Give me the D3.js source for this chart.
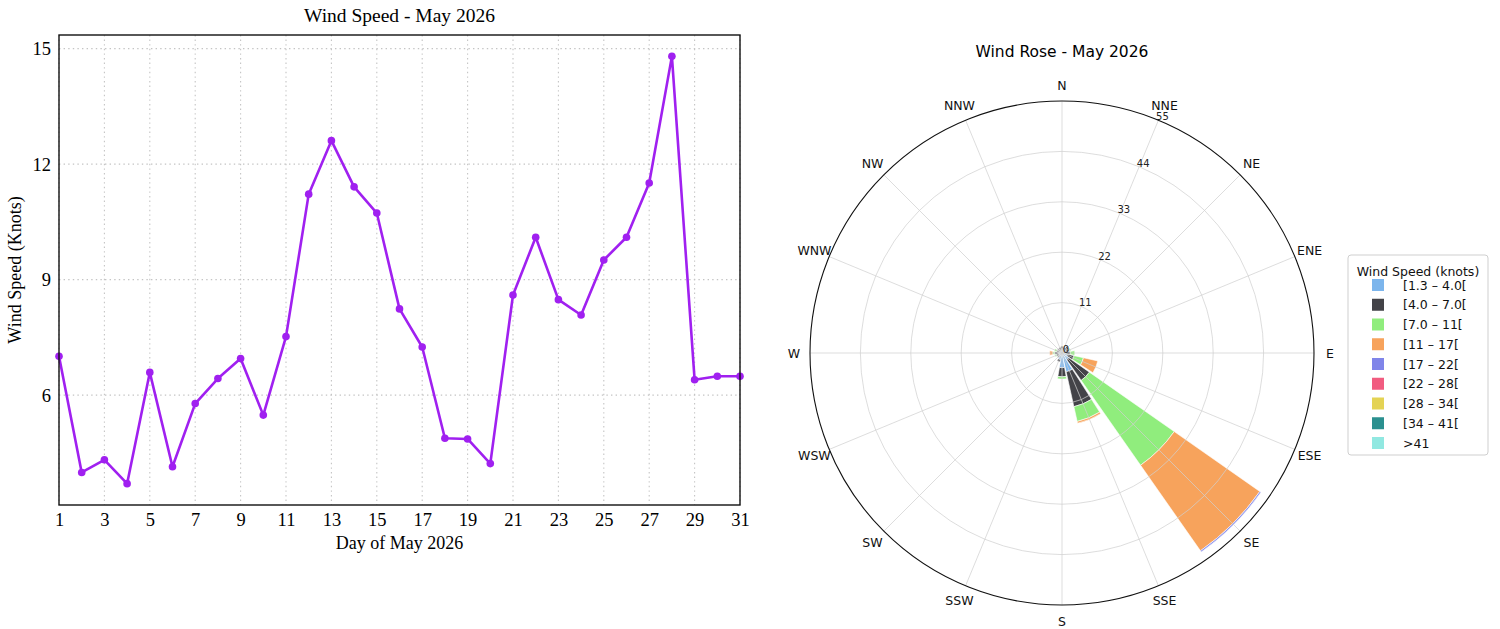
<!DOCTYPE html>
<html>
<head>
<meta charset="utf-8">
<script src="https://cdn.jsdelivr.net/npm/d3@7"></script>
<style>
  html, body { margin: 0; padding: 0; background: #fff; }
  svg { display: block; }
</style>
</head>
<body>
<svg id="chart" width="1500" height="629"></svg>
<script>
// ---- Daily mean wind speed (knots), May 2026 ----
const days = d3.range(1, 32);
const dailySpeed = [
  7.01, 3.99, 4.32, 3.70, 6.59, 4.14, 5.78, 6.43, 6.95, 5.48,
  7.52, 11.22, 12.61, 11.41, 10.73, 8.24, 7.25, 4.88, 4.86, 4.22,
  8.60, 10.10, 8.48, 8.08, 9.51, 10.10, 11.51, 14.80, 6.40, 6.49, 6.49
];
const dayTicks = [1, 3, 5, 7, 9, 11, 13, 15, 17, 19, 21, 23, 25, 27, 29, 31];
const speedTicks = [6, 9, 12, 15];

// ---- Wind rose: frequency (%) per direction and speed class ----
const directions = ["N", "NNE", "NE", "ENE", "E", "ESE", "SE", "SSE",
                    "S", "SSW", "SW", "WSW", "W", "WNW", "NW", "NNW"];
const speedClasses = ["[1.3 – 4.0[", "[4.0 – 7.0[", "[7.0 – 11[", "[11 – 17[",
                      "[17 – 22[", "[22 – 28[", "[28 – 34[", "[34 – 41[", ">41"];
const classColors = ["#7cb5ec", "#434348", "#90ed7d", "#f7a35c", "#8085e9",
                     "#f15c80", "#e4d354", "#2b908f", "#91e8e1"];
//                N    NNE  NE   ENE  E    ESE  SE    SSE  S    SSW  SW   WSW  W    WNW  NW   NNW
const freq1_3to4 = [0.5, 0.5, 0.6, 0.7, 0.8, 1.2, 1.8,  4.2, 3.2, 1.5, 0.8, 0.7, 0.8, 0.6, 0.5, 0.5];
const freq4to7   = [1.0, 0.8, 1.2, 1.0, 1.0, 1.5, 5.5,  7.8, 2.0, 0.5, 0.4, 0.6, 0.8, 0.6, 0.7, 0.8];
const freq7to11  = [0.0, 0.0, 0.0, 0.3, 1.0, 2.1, 22.6, 3.3, 0.5, 0.0, 0.0, 0.3, 0.4, 0.5, 0.0, 0.0];
const freq11to17 = [0.0, 0.0, 0.0, 0.0, 0.0, 3.2, 22.8, 0.4, 0.0, 0.0, 0.0, 0.0, 0.7, 0.0, 0.0, 0.0];
const freq17to22 = [0.0, 0.0, 0.0, 0.0, 0.0, 0.0, 0.3,  0.0, 0.0, 0.0, 0.0, 0.0, 0.0, 0.0, 0.0, 0.0];
const freq22to28 = new Array(16).fill(0);
const freq28to34 = new Array(16).fill(0);
const freq34to41 = new Array(16).fill(0);
const freqOver41 = new Array(16).fill(0);
const radialTicks = [0, 11, 22, 33, 44, 55];

const svg = d3.select("#chart");
const serif = "'Liberation Serif', 'Times New Roman', serif";
const sans = "'DejaVu Sans', sans-serif";

// ================= Line chart =================
const L = { left: 59, right: 740, top: 35, bottom: 505 };
const x = d3.scaleLinear().domain([1, 31]).range([L.left, L.right]);
const y = d3.scaleLinear().domain([3.145, 15.355]).range([L.bottom, L.top]);

const gL = svg.append("g");

// dotted grid
gL.append("g").selectAll("line.vx").data(dayTicks).join("line")
  .attr("x1", d => x(d)).attr("x2", d => x(d))
  .attr("y1", L.top).attr("y2", L.bottom)
  .attr("stroke", "#c4c4c4").attr("stroke-width", 1.1)
  .attr("stroke-dasharray", "1.4,3.2");
gL.append("g").selectAll("line.hy").data(speedTicks).join("line")
  .attr("x1", L.left).attr("x2", L.right)
  .attr("y1", d => y(d)).attr("y2", d => y(d))
  .attr("stroke", "#c4c4c4").attr("stroke-width", 1.1)
  .attr("stroke-dasharray", "1.4,3.2");

// axes (labels only, frame drawn separately)
const xAxis = d3.axisBottom(x).tickValues(dayTicks).tickSize(0).tickPadding(8);
const yAxis = d3.axisLeft(y).tickValues(speedTicks).tickSize(0).tickPadding(8);
const gx = gL.append("g").attr("transform", `translate(0,${L.bottom})`).call(xAxis);
const gy = gL.append("g").attr("transform", `translate(${L.left},0)`).call(yAxis);
[gx, gy].forEach(g => {
  g.select(".domain").remove();
  g.selectAll("text").attr("font-family", serif).attr("font-size", 18.5).attr("fill", "#000");
});

// data line + markers
gL.append("path")
  .datum(days.map((d, i) => [d, dailySpeed[i]]))
  .attr("fill", "none").attr("stroke", "#a020f0").attr("stroke-width", 2.6)
  .attr("stroke-linejoin", "round")
  .attr("d", d3.line().x(d => x(d[0])).y(d => y(d[1])));
gL.append("g").selectAll("circle").data(days).join("circle")
  .attr("cx", d => x(d)).attr("cy", (d, i) => y(dailySpeed[i]))
  .attr("r", 3.8).attr("fill", "#a020f0");

// frame
gL.append("rect").attr("x", L.left).attr("y", L.top)
  .attr("width", L.right - L.left).attr("height", L.bottom - L.top)
  .attr("fill", "none").attr("stroke", "#111").attr("stroke-width", 1.4);

gL.append("text").attr("x", (L.left + L.right) / 2).attr("y", 22)
  .attr("text-anchor", "middle").attr("font-family", serif).attr("font-size", 19.5)
  .text("Wind Speed - May 2026");
gL.append("text").attr("x", (L.left + L.right) / 2).attr("y", 549)
  .attr("text-anchor", "middle").attr("font-family", serif).attr("font-size", 18)
  .text("Day of May 2026");
gL.append("text")
  .attr("transform", `translate(21,${(L.top + L.bottom) / 2}) rotate(-90)`)
  .attr("text-anchor", "middle").attr("font-family", serif).attr("font-size", 18)
  .text("Wind Speed (Knots)");

// ================= Wind rose =================
const cx = 1062, cy = 353, R = 252;
const r = d3.scaleLinear().domain([0, 55]).range([0, R]);
const gR = svg.append("g").attr("transform", `translate(${cx},${cy})`);
const sector = 2 * Math.PI / directions.length;
const opening = sector * 0.89;

const classSeries = [freq1_3to4, freq4to7, freq7to11, freq11to17, freq17to22,
                     freq22to28, freq28to34, freq34to41, freqOver41];

// stacked wedges
const wedges = [];
directions.forEach((dir, i) => {
  let base = 0;
  classSeries.forEach((series, k) => {
    const v = series[i];
    if (v > 0) wedges.push({ i, k, r0: base, r1: base + v });
    base += v;
  });
});
const arc = d3.arc()
  .innerRadius(d => r(d.r0)).outerRadius(d => r(d.r1))
  .startAngle(d => d.i * sector - opening / 2)
  .endAngle(d => d.i * sector + opening / 2);
gR.append("g").selectAll("path").data(wedges).join("path")
  .attr("d", arc).attr("fill", d => classColors[d.k])
  .attr("stroke", "#fff").attr("stroke-width", 0.6);

// grid drawn above the wedges
const grid = gR.append("g").attr("stroke", "#d0d0d0").attr("stroke-opacity", 0.8).attr("fill", "none");
grid.selectAll("circle").data(radialTicks.slice(1, -1)).join("circle")
  .attr("r", d => r(d)).attr("stroke-width", 0.9);
grid.selectAll("line").data(directions).join("line")
  .attr("x1", 0).attr("y1", 0)
  .attr("x2", (d, i) => R * Math.sin(i * sector))
  .attr("y2", (d, i) => -R * Math.cos(i * sector))
  .attr("stroke-width", 0.9);

// outer ring
gR.append("circle").attr("r", R).attr("fill", "none").attr("stroke", "#111").attr("stroke-width", 1.1);

// radial labels along NNE
const labAng = sector;
gR.append("g").selectAll("text").data(radialTicks).join("text")
  .attr("x", d => r(d) * Math.sin(labAng) + 4)
  .attr("y", d => -r(d) * Math.cos(labAng) - 3)
  .attr("text-anchor", "middle").attr("dominant-baseline", "middle")
  .attr("font-family", sans).attr("font-size", 10).attr("fill", "#222")
  .text(d => d);

// compass labels
gR.append("g").selectAll("text").data(directions).join("text")
  .attr("x", (d, i) => (R + 16) * Math.sin(i * sector))
  .attr("y", (d, i) => -(R + 16) * Math.cos(i * sector))
  .attr("text-anchor", "middle").attr("dominant-baseline", "central")
  .attr("font-family", sans).attr("font-size", 12.5).attr("fill", "#111")
  .text(d => d);

svg.append("text").attr("x", cx).attr("y", 57)
  .attr("text-anchor", "middle").attr("font-family", sans).attr("font-size", 15.5)
  .text("Wind Rose - May 2026");

// legend
const lg = svg.append("g").attr("transform", "translate(1348,255)");
lg.append("rect").attr("width", 140).attr("height", 200).attr("rx", 3)
  .attr("fill", "#fff").attr("stroke", "#cfcfcf");
lg.append("text").attr("x", 70).attr("y", 16).attr("text-anchor", "middle")
  .attr("dominant-baseline", "central")
  .attr("font-family", sans).attr("font-size", 12.5).attr("fill", "#111")
  .text("Wind Speed (knots)");
const rows = lg.selectAll("g.row").data(speedClasses).join("g")
  .attr("transform", (d, i) => `translate(0,${30 + i * 19.75})`);
rows.append("rect").attr("x", 24).attr("y", -6).attr("width", 12).attr("height", 12)
  .attr("fill", (d, i) => classColors[i]);
rows.append("text").attr("x", 55).attr("y", 0).attr("dominant-baseline", "central")
  .attr("font-family", sans).attr("font-size", 12.5).attr("fill", "#111")
  .text(d => d);
</script>
</body>
</html>
